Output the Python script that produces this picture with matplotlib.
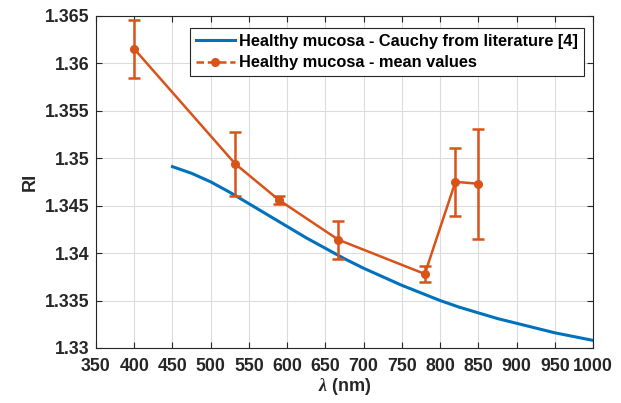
import matplotlib
matplotlib.use("Agg")
import matplotlib.pyplot as plt
from matplotlib.lines import Line2D

plt.rcParams['font.family'] = ['Liberation Sans', 'DejaVu Sans']
plt.rcParams['font.weight'] = 'bold'
plt.rcParams['mathtext.fontset'] = 'custom'
plt.rcParams['mathtext.it'] = 'Liberation Serif:italic'

# Cauchy curve from literature
cauchyWl = [450, 475, 500, 525, 550, 575, 600, 625, 650, 675, 700, 725,
            750, 775, 800, 825, 850, 875, 900, 925, 950, 975, 1000]
cauchyRi = [1.3491, 1.3484, 1.3475, 1.3464, 1.3452, 1.3440, 1.3428, 1.3416,
            1.3405, 1.3394, 1.3384, 1.3375, 1.3366, 1.3358, 1.3350, 1.3343,
            1.3337, 1.3331, 1.3326, 1.3321, 1.3316, 1.3312, 1.3308]

# measured mean values with error bars
meanWl = [400, 532, 589, 667, 780, 820, 850]
meanRi = [1.3615, 1.3494, 1.3456, 1.3414, 1.3378, 1.3475, 1.3473]
meanErr = [0.0031, 0.0034, 0.0004, 0.0020, 0.0008, 0.0036, 0.0058]

xTicks = list(range(350, 1001, 50))
yTicks = [1.33, 1.335, 1.34, 1.345, 1.35, 1.355, 1.36, 1.365]
yTickLabels = ['1.33', '1.335', '1.34', '1.345', '1.35', '1.355', '1.36', '1.365']

blue = '#0072BD'
orange = '#D95319'
axisColor = '#262626'

fig = plt.figure(figsize=(6.21, 4.03), dpi=100)
ax = fig.add_axes([0.1546, 0.1365, 0.8004, 0.8245])

ax.plot(cauchyWl, cauchyRi, color=blue, lw=2.2)
ax.errorbar(meanWl, meanRi, yerr=meanErr, color=orange, lw=1.8,
            marker='o', markersize=5.5, capsize=4.5, capthick=1.8, elinewidth=1.8)

ax.set_xlim(350, 1000)
ax.set_ylim(1.33, 1.365)
ax.set_xticks(xTicks)
ax.set_yticks(yTicks)
ax.set_yticklabels(yTickLabels)

ax.grid(True, color='#dcdcdc', lw=0.8)
ax.set_axisbelow(True)
ax.tick_params(direction='in', length=4, colors=axisColor, labelsize=12.8,
               top=True, right=True, labelcolor='#262626')
ax.tick_params(axis='x', pad=7)
ax.tick_params(axis='y', pad=5)
for s in ax.spines.values():
    s.set_color(axisColor)
    s.set_linewidth(0.8)
for lbl in ax.get_xticklabels() + ax.get_yticklabels():
    lbl.set_fontweight('bold')

ax.set_xlabel(r'$\lambda$ (nm)', fontsize=13, fontweight='bold', color='#262626', labelpad=1)
ax.set_ylabel('RI', fontsize=13, fontweight='bold', color='#262626', labelpad=4)

handles = [
    Line2D([], [], color=blue, lw=2.2),
    Line2D([], [], color=orange, lw=1.8, ls=(0, (3, 1.5)), marker='o', markersize=5.5),
]
labels = ['Healthy mucosa - Cauchy from literature [4]',
          'Healthy mucosa - mean values']
leg = ax.legend(handles, labels, loc='upper right', fancybox=False,
                framealpha=1, edgecolor=axisColor,
                prop={'weight': 'bold', 'size': 11.8},
                borderpad=0.35, handlelength=2.4, handletextpad=0.25,
                labelspacing=0.4, borderaxespad=0,
                bbox_to_anchor=(0.981, 0.963))
leg.get_frame().set_linewidth(0.8)

fig.savefig('out.png', dpi=100)
